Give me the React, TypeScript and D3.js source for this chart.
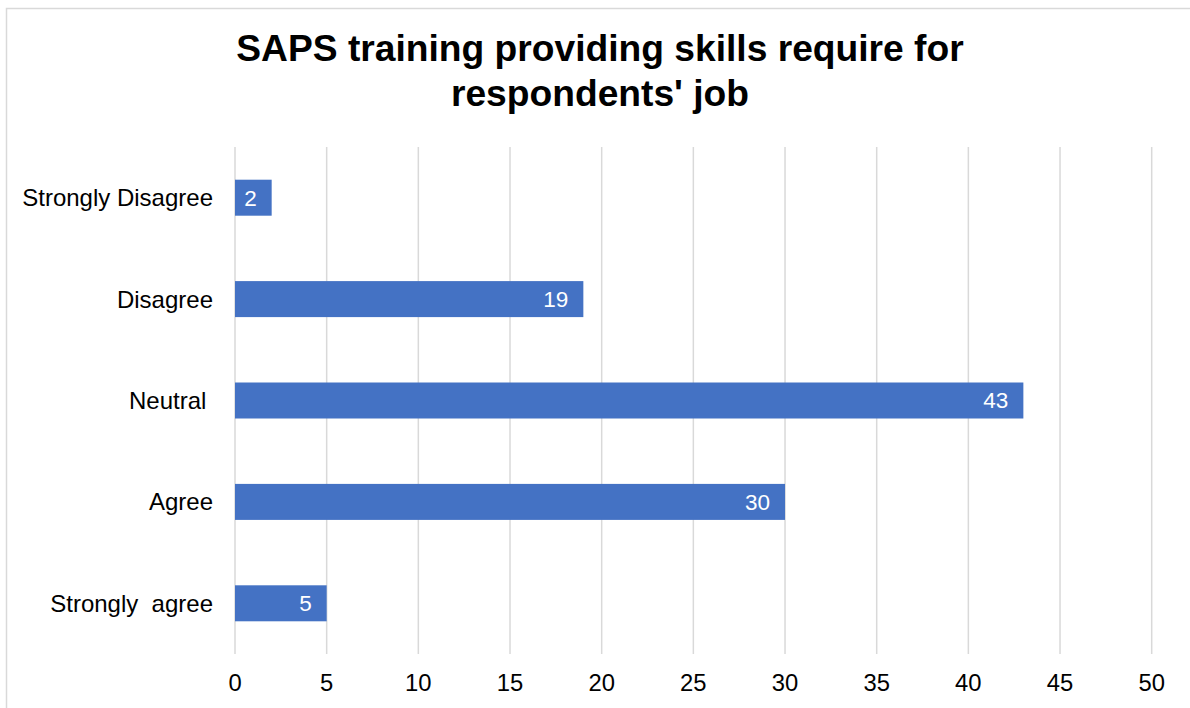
import React from "react";
import * as d3 from "d3";

const categories = ["Strongly Disagree", "Disagree", "Neutral ", "Agree", "Strongly  agree"];
const values = [2, 19, 43, 30, 5];
const xTicks = [0, 5, 10, 15, 20, 25, 30, 35, 40, 45, 50];
const titleLines = ["SAPS training providing skills require for", "respondents' job"];

const W = 1190;
const H = 708;
const FONT = "'Liberation Sans', Arial, Helvetica, sans-serif";

export default function App() {
  const x = d3.scaleLinear().domain([0, 50]).range([235, 1151.7]);
  const y = d3.scaleBand<string>().domain(categories).range([147, 654]).paddingInner(0.645).paddingOuter(0.3225);

  return (
    <svg
      width={W}
      height={H}
      style={{ position: "absolute", left: 0, top: 0, display: "block", background: "#fff" }}
      fontFamily={FONT}
    >
      <rect x={6.5} y={8.5} width={W + 20} height={H + 20} fill="#fff" stroke="#d9d9d9" strokeWidth={1.5} />
      {titleLines.map((t, i) => (
        <text key={i} x={600} y={61 + i * 45} textAnchor="middle" fontSize={37.2} fontWeight="bold" fill="#000">
          {t}
        </text>
      ))}
      {xTicks.map((t) => (
        <g key={t}>
          <line x1={x(t)} x2={x(t)} y1={147} y2={654} stroke="#d9d9d9" strokeWidth={1.5} />
          <text x={x(t)} y={691} textAnchor="middle" fontSize={23.8} fill="#000">
            {t}
          </text>
        </g>
      ))}
      {categories.map((c, i) => {
        const by = y(c)!;
        const bh = y.bandwidth();
        return (
          <g key={c}>
            <rect x={x(0)} y={by} width={x(values[i]) - x(0)} height={bh} fill="#4472C4" />
            <text
              x={213}
              y={by + bh / 2}
              dy="0.35em"
              textAnchor="end"
              fontSize={24}
              fill="#000"
              style={{ whiteSpace: "pre" }}
            >
              {c}
            </text>
            <text
              x={x(values[i]) - 15}
              y={by + bh / 2}
              dy="0.35em"
              textAnchor="end"
              fontSize={22.5}
              fill="#fff"
            >
              {values[i]}
            </text>
          </g>
        );
      })}
    </svg>
  );
}
